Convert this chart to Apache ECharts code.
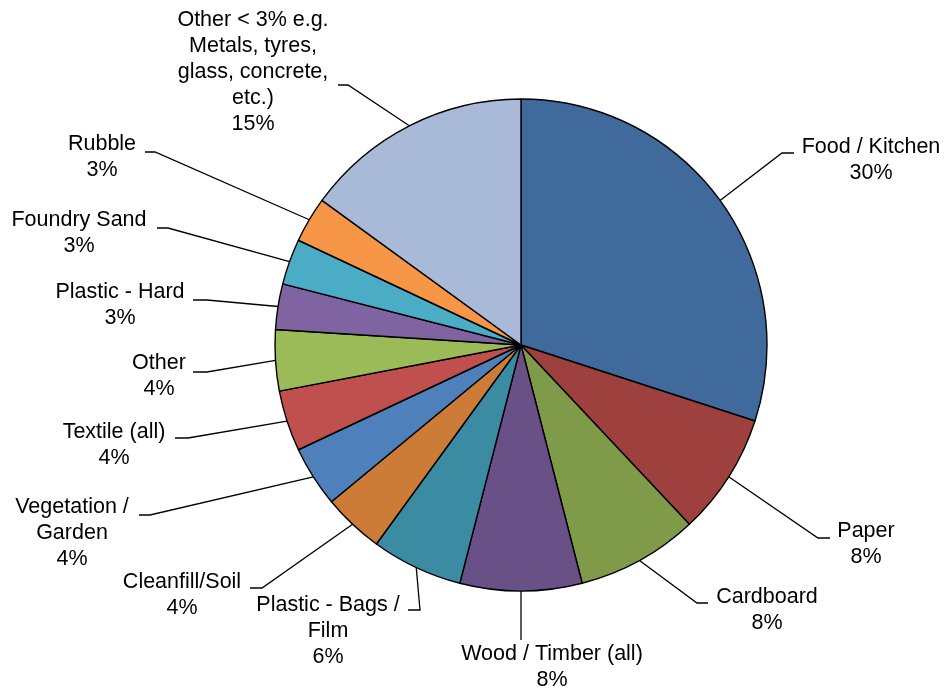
<!DOCTYPE html>
<html>
<head>
<meta charset="utf-8">
<title>Waste composition</title>
<script src="https://cdn.jsdelivr.net/npm/echarts@6/dist/echarts.min.js"></script>
<style>
  html, body { margin: 0; padding: 0; background: #ffffff; }
  #chart { width: 946px; height: 693px; }
</style>
</head>
<body>
<div id="chart"></div>
<script>
// Waste stream categories, clockwise from 12 o'clock
const categories = [
  'Food / Kitchen',
  'Paper',
  'Cardboard',
  'Wood / Timber (all)',
  'Plastic - Bags /\nFilm',
  'Cleanfill/Soil',
  'Vegetation /\nGarden',
  'Textile (all)',
  'Other',
  'Plastic - Hard',
  'Foundry Sand',
  'Rubble',
  'Other < 3% e.g.\nMetals, tyres,\nglass, concrete,\netc.)'
];

// Share of total, percent
const shares = [30, 8, 8, 8, 6, 4, 4, 4, 4, 3, 3, 3, 15];

const sliceColors = [
  '#406A9B', '#9E413E', '#7F9A48', '#695086', '#3B8CA3', '#CD7C37',
  '#4E80BC', '#C0504D', '#9BBB59', '#8064A2', '#4BACC6', '#F79646', '#A9B9D8'
];

// Label placement: text centre x, text top y, and the leader's elbow / end points
const labelPlacement = [
  { x: 871, y: 134, elbow: [782, 153], end: [794, 153] },
  { x: 866, y: 518, elbow: [818, 538], end: [830, 538] },
  { x: 767, y: 584, elbow: [697, 603], end: [708, 603] },
  { x: 552, y: 641, elbow: null, end: [null, 640] },
  { x: 328, y: 592, elbow: [420, 610], end: [408, 610] },
  { x: 182, y: 569, elbow: [262, 588], end: [250, 588] },
  { x: 72,  y: 494, elbow: [150, 515], end: [139, 515] },
  { x: 114, y: 419, elbow: [188, 438], end: [175, 438] },
  { x: 159, y: 350, elbow: [207, 372], end: [193, 372] },
  { x: 120, y: 279, elbow: [207, 300], end: [193, 300] },
  { x: 79,  y: 207, elbow: [168, 228], end: [157, 228] },
  { x: 102, y: 131, elbow: [155, 152], end: [145, 152] },
  { x: 253, y: 7,   elbow: [348, 85],  end: [338, 85] }
];

const pieData = categories.map((name, i) => ({
  name: name,
  value: shares[i],
  itemStyle: { color: sliceColors[i] }
}));

const chart = echarts.init(document.getElementById('chart'), null, { renderer: 'canvas' });

chart.setOption({
  animation: false,
  backgroundColor: '#ffffff',
  series: [{
    type: 'pie',
    center: [521, 345],
    radius: 246,
    startAngle: 90,
    clockwise: true,
    avoidLabelOverlap: false,
    emphasis: { disabled: true },
    itemStyle: { borderColor: '#000000', borderWidth: 1.4 },
    label: {
      show: true,
      position: 'outside',
      formatter: p => p.name + '\n' + p.value + '%',
      color: '#000000',
      fontFamily: '"Liberation Sans", Arial, sans-serif',
      fontSize: 21.5,
      lineHeight: 26,
      align: 'center'
    },
    labelLine: {
      show: true,
      length: 20,
      length2: 10,
      lineStyle: { color: '#000000', width: 1.3 }
    },
    labelLayout: function (params) {
      const place = labelPlacement[params.dataIndex];
      const start = params.labelLinePoints[0];
      let points;
      if (place.elbow) {
        points = [start, place.elbow, place.end];
      } else {
        // straight drop below the slice
        points = [start, [start[0], place.end[1]], [start[0], place.end[1]]];
      }
      return {
        x: place.x,
        y: place.y,
        align: 'center',
        verticalAlign: 'top',
        labelLinePoints: points
      };
    },
    data: pieData
  }]
});
</script>
</body>
</html>
